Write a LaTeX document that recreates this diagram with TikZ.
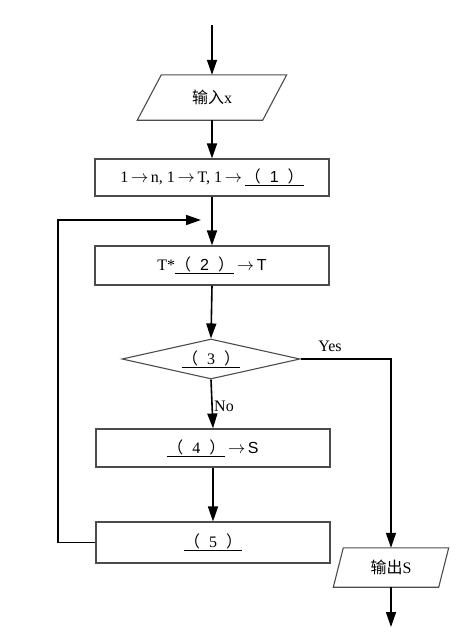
\documentclass[tikz,border=0pt]{standalone}
\usepackage{fontspec}
\setmainfont{Liberation Serif}
\setsansfont{Liberation Sans}
\newfontfamily\cjk{Noto Sans CJK SC}
\usetikzlibrary{arrows.meta,shapes.geometric}
\newcommand{\blank}[1]{\underline{{\cjk （}\hspace{9pt}#1\hspace{9pt}{\cjk ）}}}
\newcommand{\ar}{\,$\rightarrow$\,}
\begin{document}
\begin{tikzpicture}[x=1pt,y=-1pt,
  conn/.style={line width=1.6pt},
  arr/.style={conn,-{Triangle[length=15pt,width=10pt]}},
  outline/.style={draw=black!70,line width=1.1pt},
  txt/.style={font=\fontsize{16}{18}\selectfont},
  boxnode/.style={outline,txt,minimum width=234pt,inner sep=0pt},
  ionode/.style={txt,inner sep=0pt},
  lbl/.style={txt,inner sep=1pt}]
\useasboundingbox (0,0) rectangle (469,641);
% nodes
\coordinate (top) at (212,25);
\node[ionode,minimum width=125pt,minimum height=45pt] (in) at (212,97.5) {{\cjk 输入}x};
\node[boxnode,minimum height=37pt] (b1) at (212,177.5) {1\ar n,\ 1\ar T,\ 1\ar\blank{\textsf{1}}};
\node[boxnode,minimum height=39pt] (b2) at (212,265.5) {T*\blank{\textsf{2}}\ar\textsf{T}};
\node[outline,txt,diamond,aspect=4.45,minimum width=178pt,minimum height=40pt,inner sep=0pt] (d) at (211,359) {\blank{3}};
\node[boxnode,minimum height=38pt] (b4) at (213,448) {\blank{4}\ar\textsf{S}};
\node[boxnode,minimum height=41pt] (b5) at (213,542.5) {\blank{5}};
\node[ionode,minimum width=105pt,minimum height=39pt] (out) at (391,567.5) {{\cjk 输出}S};
\coordinate (end) at (391,627);
\coordinate (lc) at (58,220);
\coordinate (jn) at (201,220);
\node[lbl,anchor=west] (no) at (213,406) {No};
\node[lbl] (yes) at (330,346) {Yes};
% parallelograms
\draw[outline] ([xshift=12pt]in.north west) -- ([xshift=12pt]in.north east) -- ([xshift=-12pt]in.south east) -- ([xshift=-12pt]in.south west) -- cycle;
\draw[outline] ([xshift=5pt]out.north west) -- ([xshift=5pt]out.north east) -- ([xshift=-5pt]out.south east) -- ([xshift=-5pt]out.south west) -- cycle;
% connectors
\draw[arr] (top) -- (in.north);
\draw[arr] (in.south) -- (b1.north);
\draw[arr] (b1.south) -- (b2.north);
\draw[arr] (b2.south) -- (d.north);
\draw[arr] (d.south) -- (b4.north);
\draw[arr] (b4.south) -- (b5.north);
\draw[arr] (b5.west) -| (lc) -- (jn);
\draw[arr] (d.east) -| (out.north);
\draw[arr] (out.south) -- (end);
\end{tikzpicture}
\end{document}
